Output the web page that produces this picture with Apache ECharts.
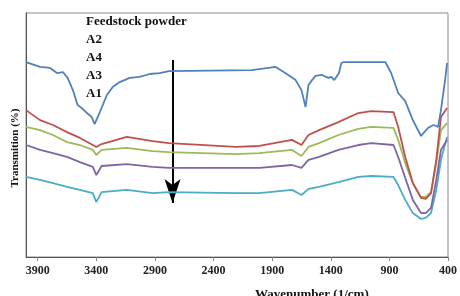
<!DOCTYPE html>
<html lang="en">
<head>
    <meta charset="UTF-8">
    <title>FTIR spectra</title>
    <style>
        html, body { margin: 0; padding: 0; background: #fff; }
        #myChart { width: 460px; height: 296px; }
    </style>
</head>
<body>
    <div id="myChart"></div>
</body>
<script src="https://cdn.jsdelivr.net/npm/echarts@6/dist/echarts.min.js"></script>
<script>
    // wavenumber ticks (1/cm), axis runs 4000 -> 400
    let xTicks = [3900, 3400, 2900, 2400, 1900, 1400, 900, 400];

    // feedstock powder, read at its own wavenumbers
    let feedWn = [4000, 3880, 3795, 3735, 3685, 3645, 3600, 3560, 3525, 3480, 3440, 3415, 3370, 3310, 3260,
                  3200, 3115, 3030, 2945, 2860, 2780, 2075, 1870, 1775, 1700, 1650, 1615, 1590, 1560, 1530,
                  1475, 1420, 1395, 1370, 1330, 1310, 1290, 935, 885, 825, 765, 700, 630, 570, 525,
                  485, 460, 425, 408];
    let feedstock = [79.9, 77.9, 77.5, 75.4, 75.8, 73.4, 68.4, 62.3, 61.1, 59.0, 57.4, 54.5, 59.4, 66.4, 69.7,
                     71.7, 73.4, 73.8, 75.0, 75.4, 76.2, 76.6, 77.9, 75.0, 72.5, 68.4, 61.5, 70.5, 72.5, 74.2,
                     74.6, 73.4, 73.8, 72.5, 75.4, 79.5, 79.9, 79.9, 75.4, 67.2, 63.9, 56.1, 49.6, 52.9, 54.1,
                     53.3, 60.2, 72.5, 79.5];

    // treated samples share one wavenumber grid
    let sampleWn = [4000, 3880, 3770, 3650, 3540, 3430, 3400, 3355, 3140, 2920, 2780, 2210, 2010, 1730, 1650,
                    1590, 1500, 1335, 1165, 1055, 865, 825, 765, 700, 630, 590, 545, 500, 460, 408];
    let a2 = [60.2, 56.1, 54.1, 51.2, 48.8, 45.9, 45.1, 46.3, 49.2, 47.5, 46.7, 45.1, 45.5, 48.0, 45.9,
              50.0, 52.0, 55.3, 59.0, 59.8, 59.4, 53.3, 41.0, 30.3, 24.2, 23.8, 26.2, 39.8, 57.4, 61.1];
    let a4 = [53.3, 52.0, 50.0, 47.1, 45.9, 43.9, 41.8, 43.9, 44.7, 43.4, 43.0, 42.2, 42.6, 43.9, 41.4,
              45.1, 46.7, 50.0, 52.5, 53.3, 52.9, 48.0, 38.5, 30.3, 24.6, 24.6, 26.6, 38.5, 52.0, 54.9];
    let a3 = [45.9, 43.9, 42.6, 41.0, 38.9, 36.9, 33.6, 37.3, 38.1, 36.9, 36.5, 36.5, 36.5, 37.7, 36.5,
              39.8, 41.0, 43.9, 45.9, 46.7, 45.9, 41.0, 32.4, 23.4, 18.0, 18.0, 20.1, 31.6, 43.9, 48.0];
    let a1 = [32.8, 31.6, 30.3, 28.7, 27.5, 26.2, 22.5, 26.6, 27.5, 26.2, 26.6, 26.2, 26.2, 27.5, 25.4,
              27.9, 28.7, 30.7, 32.8, 33.2, 32.8, 29.5, 23.4, 18.0, 15.6, 16.0, 18.0, 27.5, 39.8, 49.2];

    // arrow across the curves: wavenumber and transmission from/to
    let arrowWn = 2750;
    let arrowFrom = 80.7;
    let arrowTo = 22.1;

    let names = ['Feedstock powder', 'A2', 'A4', 'A3', 'A1'];
    let colors = ['#4F81BD', '#C0504D', '#9BBB59', '#8064A2', '#4BACC6'];
    let serif = 'Liberation Serif';

    function pairs(xs, ys) {
      return xs.map(function (x, i) { return [x, ys[i]]; });
    }

    let curves = [pairs(feedWn, feedstock), pairs(sampleWn, a2), pairs(sampleWn, a4),
                  pairs(sampleWn, a3), pairs(sampleWn, a1)];

    let series = curves.map(function (d, i) {
      return {
        name: names[i],
        type: 'line',
        data: d,
        showSymbol: false,
        symbol: 'none',
        lineStyle: { color: colors[i], width: 1.8 },
        itemStyle: { color: colors[i] },
        z: 10 - i
      };
    });

    series[4].markLine = {
      silent: true,
      animation: false,
      symbol: ['none', 'arrow'],
      symbolSize: [12, 24],
      label: { show: false },
      lineStyle: { color: '#000', width: 2, type: 'solid' },
      data: [[{ coord: [arrowWn, arrowFrom] }, { coord: [arrowWn, arrowTo] }]]
    };

    let chart = echarts.init(document.getElementById('myChart'));
    let option = {
      animation: false,
      backgroundColor: '#fff',
      grid: {
        left: 26, right: 10, top: 13, bottom: 39,
        show: true, borderColor: '#8a8a8a', borderWidth: 1
      },
      legend: {
        orient: 'vertical',
        left: 75,
        top: 10,
        itemWidth: 0,
        itemHeight: 0,
        itemGap: 5,
        data: names,
        textStyle: { fontFamily: serif, fontWeight: 'bold', fontSize: 13, color: '#111' }
      },
      xAxis: {
        type: 'value',
        inverse: true,
        min: 400,
        max: 4000,
        interval: 500,
        axisLine: { lineStyle: { color: '#555' } },
        axisTick: { show: true, length: 4, lineStyle: { color: '#888' } },
        axisLabel: {
          showMaxLabel: false,
          margin: 8,
          fontFamily: serif, fontWeight: 'bold', fontSize: 12, color: '#222',
          formatter: function (v) { return xTicks.indexOf(v) >= 0 ? String(v) : ''; }
        },
        splitLine: { show: false }
      },
      yAxis: {
        type: 'value',
        min: 0,
        max: 100,
        axisLine: { show: true, lineStyle: { color: '#555' } },
        axisTick: { show: false },
        axisLabel: { show: false },
        splitLine: { show: false }
      },
      graphic: [
        {
          type: 'text',
          left: 255,
          top: 288,
          style: { text: 'Wavenumber (1/cm)', fontFamily: serif, fontWeight: 'bold', fontSize: 13, fill: '#111' }
        },
        {
          type: 'text',
          x: 15,
          y: 148,
          rotation: Math.PI / 2,
          style: {
            text: 'Transmition (%)', fontFamily: serif, fontWeight: 'bold', fontSize: 11, fill: '#111',
            align: 'center', verticalAlign: 'middle'
          }
        }
      ],
      series: series
    };
    chart.setOption(option);
</script>
</html>
